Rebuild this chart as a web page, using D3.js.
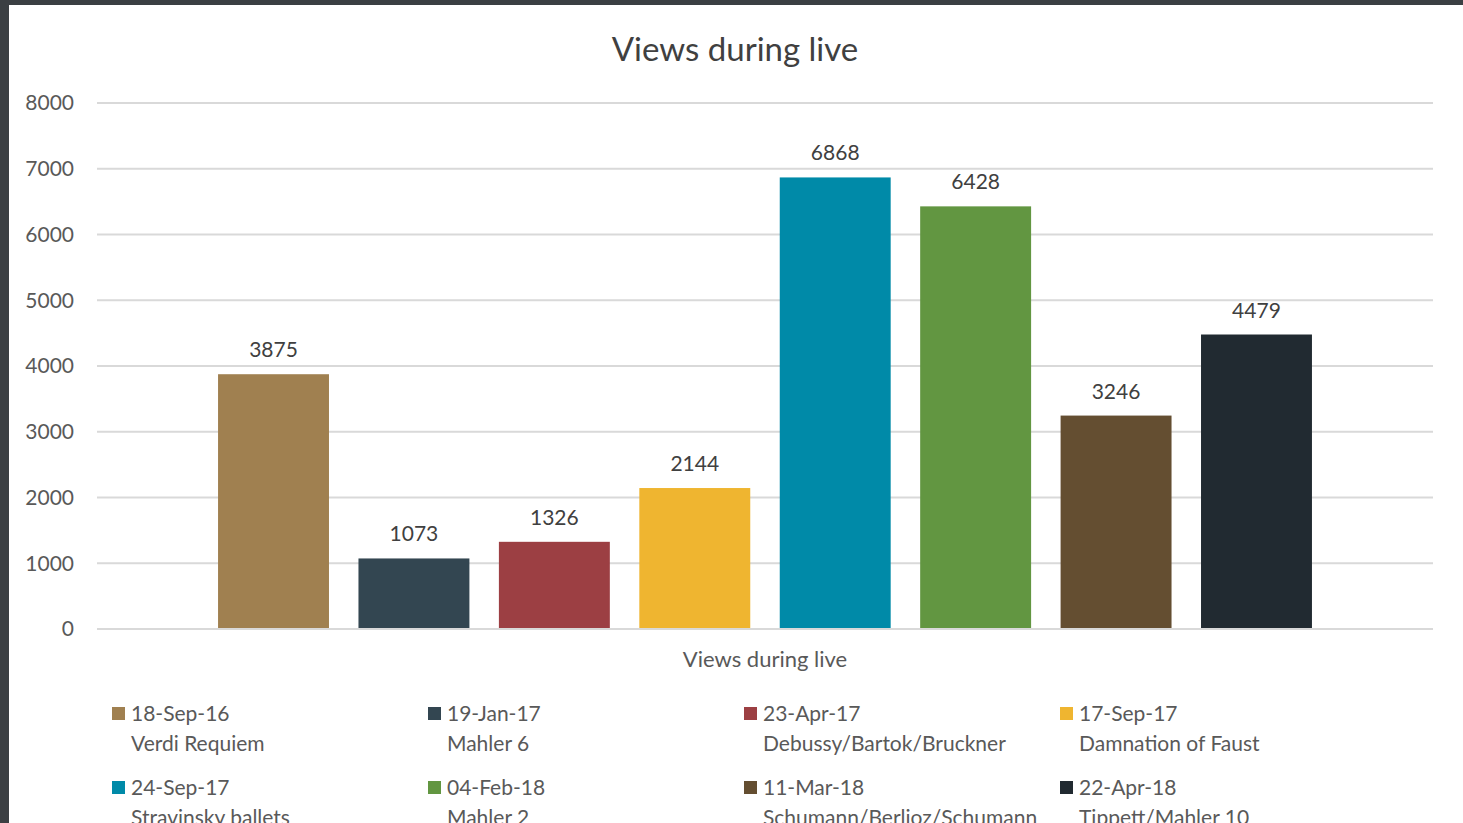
<!DOCTYPE html>
<html>
<head>
<meta charset="utf-8">
<script src="https://cdn.jsdelivr.net/npm/d3@7"></script>
<style>
  html, body { margin: 0; padding: 0; background: #3b3f43; }
  #chart { position: absolute; left: 9px; top: 5px; width: 1454px; height: 818px; background: #fff; }
  text { font-family: Lato, "Open Sans", sans-serif; }
</style>
</head>
<body>
<div id="chart"></div>
<script>
const category = "Views during live";
const dates = ["18-Sep-16", "19-Jan-17", "23-Apr-17", "17-Sep-17", "24-Sep-17", "04-Feb-18", "11-Mar-18", "22-Apr-18"];
const concerts = ["Verdi Requiem", "Mahler 6", "Debussy/Bartok/Bruckner", "Damnation of Faust",
                  "Stravinsky ballets", "Mahler 2", "Schumann/Berlioz/Schumann", "Tippett/Mahler 10"];
const views = [3875, 1073, 1326, 2144, 6868, 6428, 3246, 4479];
const yTicks = [0, 1000, 2000, 3000, 4000, 5000, 6000, 7000, 8000];
const colors = ["#a08050", "#334651", "#9c3f43", "#efb530", "#008aa8", "#629641", "#644e31", "#212a31"];

const W = 1454, H = 818;
// chart div is offset by (9,5); margins are in chart coordinates
const margin = { top: 98, right: 30, bottom: 194, left: 88 };

const svg = d3.select("#chart").append("svg")
    .attr("width", W)
    .attr("height", H);

const y = d3.scaleLinear()
    .domain([0, 8000])
    .range([H - margin.bottom, margin.top]);

const x = d3.scaleBand()
    .domain(dates)
    .range([margin.left, W - margin.right])
    .paddingInner(0.21)
    .paddingOuter(0.862);

// Title
svg.append("text")
    .attr("x", 726).attr("y", 56)
    .attr("text-anchor", "middle")
    .style("font-size", "33px")
    .style("fill", "#404040")
    .text(category);

// Grid
svg.append("g")
    .selectAll("line")
    .data(yTicks)
    .join("line")
    .attr("x1", margin.left).attr("x2", W - margin.right)
    .attr("y1", d => y(d)).attr("y2", d => y(d))
    .attr("stroke", "#d9d9d9")
    .attr("stroke-width", 2);

// Y labels
svg.append("g")
    .selectAll("text")
    .data(yTicks)
    .join("text")
    .attr("x", 65)
    .attr("y", d => y(d))
    .attr("dy", "0.35em")
    .attr("text-anchor", "end")
    .style("font-size", "21px")
    .style("fill", "#595959")
    .text(d => d);

// Bars
svg.append("g")
    .selectAll("rect")
    .data(views)
    .join("rect")
    .attr("x", (d, i) => x(dates[i]))
    .attr("y", d => y(d))
    .attr("width", x.bandwidth())
    .attr("height", d => y(0) - y(d) - 1)
    .attr("fill", (d, i) => colors[i]);

// Value labels
svg.append("g")
    .selectAll("text")
    .data(views)
    .join("text")
    .attr("x", (d, i) => x(dates[i]) + x.bandwidth() / 2)
    .attr("y", d => y(d) - 17)
    .attr("text-anchor", "middle")
    .style("font-size", "21px")
    .style("fill", "#404040")
    .text(d => d);

// Axis title
svg.append("text")
    .attr("x", (margin.left + W - margin.right) / 2)
    .attr("y", 662)
    .attr("text-anchor", "middle")
    .style("font-size", "22px")
    .style("fill", "#595959")
    .text(category);

// Legend
const legend = svg.append("g");
dates.forEach((dt, i) => {
    const col = i % 4, row = Math.floor(i / 4);
    const lg = legend.append("g")
        .attr("transform", `translate(${103 + col * 316},${702 + row * 74})`);
    lg.append("rect").attr("width", 13).attr("height", 13).attr("fill", colors[i]);
    lg.append("text").attr("x", 19).attr("y", 14)
        .style("font-size", "21px").style("fill", "#595959").text(dt);
    lg.append("text").attr("x", 19).attr("y", 44)
        .style("font-size", "21px").style("fill", "#595959").text(concerts[i]);
});
</script>
</body>
</html>
